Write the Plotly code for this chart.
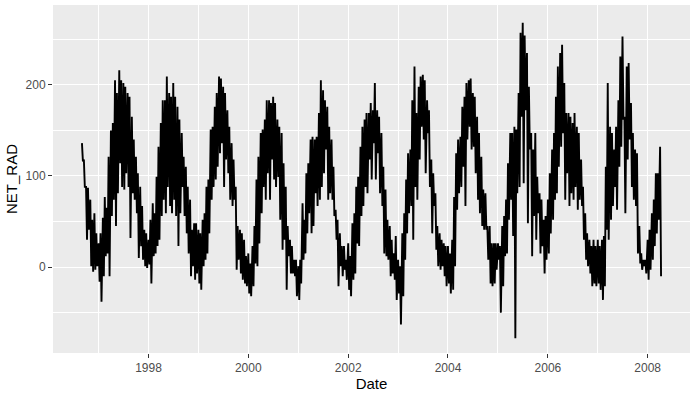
import pandas as pd
import plotly.graph_objects as go

# Semi-monthly envelope readings of NET_RAD (high and low of each half-month)
start_date = "1996-09-01"

hi_1996 = [136, 118, 88, 87, 74, 52, 59, 37]
lo_1996 = [116, 88, 30, 41, 1, -5, -3, 1]
hi_1997 = [26, 37, 54, 77, 65, 121, 150, 158, 205, 191, 216, 205, 202, 198, 191, 187, 165, 140, 121, 103, 88, 67, 41, 37]
lo_1997 = [-16, -38, -10, 12, 15, -10, 56, 74, 45, 81, 114, 88, 85, 103, 88, 32, 81, 74, 59, 10, 23, 8, 1, -1]
hi_1998 = [30, 52, 70, 59, 99, 132, 158, 183, 183, 209, 191, 187, 202, 187, 176, 162, 147, 121, 110, 88, 74, 41, 48, 48]
lo_1998 = [3, -18, 12, 15, 23, 30, 56, 74, 59, 88, 67, 59, 74, 56, 23, 59, 88, 56, 37, 15, -10, 1, -14, -7]
hi_1999 = [41, 37, 52, 59, 88, 96, 151, 154, 176, 191, 209, 207, 198, 191, 172, 154, 136, 118, 88, 45, 41, 37, 30, 12]
lo_1999 = [-18, -25, 1, 8, 15, 37, 74, 88, 96, 110, 125, 136, 88, 118, 103, 74, 67, 74, -3, 8, -7, -14, -18, -21]
hi_2000 = [15, 4, 23, 45, 96, 121, 147, 151, 162, 183, 183, 180, 187, 180, 162, 154, 147, 114, 88, 45, 30, 23, 8, 8]
lo_2000 = [-29, -32, -21, 4, 1, 26, 59, 88, 74, 103, 74, 118, 96, 88, 99, 52, 19, 30, -25, 12, -7, -7, -10, -32]
hi_2001 = [1, 8, 70, 52, 103, 114, 140, 143, 140, 143, 169, 205, 194, 183, 176, 154, 140, 110, 63, 52, 37, 23, 23, 8]
lo_2001 = [-36, -18, 8, 15, 37, 59, 37, 45, 81, 67, 74, 88, 103, 129, 74, 81, 74, 56, 30, -21, 1, -10, -3, -14]
hi_2002 = [26, 12, 48, 59, 88, 99, 132, 154, 162, 169, 169, 180, 172, 202, 172, 165, 147, 110, 85, 52, 45, 30, 15, 34]
lo_2002 = [-25, -32, -14, -7, 26, 23, 56, 67, 88, 81, 118, 96, 136, 96, 125, 81, 67, 15, 12, 8, -10, -7, -14, -36]
hi_2003 = [8, 1, 37, 59, 96, 125, 129, 183, 220, 169, 198, 209, 211, 205, 183, 172, 118, 103, 81, 45, 37, 30, 26, 23]
lo_2003 = [-29, -63, -32, 8, 37, 59, 67, 30, 88, 74, 118, 154, 140, 103, 147, 88, 37, 67, 19, 1, -3, 1, -10, -21]
hi_2004 = [23, 15, 30, 77, 125, 140, 143, 176, 187, 202, 205, 207, 191, 187, 165, 147, 121, 85, 81, 45, 45, 26, 26, 26]
lo_2004 = [-18, -29, -25, 1, 63, 81, 88, 110, 67, 140, 154, 129, 132, 103, 74, 59, 45, 41, 41, 8, -18, -21, -18, -3]
hi_2005 = [26, 23, 45, 56, 74, 114, 147, 147, 154, 151, 191, 257, 268, 254, 235, 198, 147, 129, 147, 99, 81, 74, 52, 56]
lo_2005 = [8, -50, -21, 12, 15, 52, 74, 34, -78, 81, 88, 165, 92, 172, 48, 129, 12, 56, 30, 59, 15, 23, -7, 8]
hi_2006 = [74, 103, 129, 147, 187, 220, 235, 244, 202, 169, 169, 165, 158, 169, 154, 147, 118, 88, 59, 37, 30, 23, 30, 23]
lo_2006 = [15, 37, 52, 74, 81, 110, 132, 147, 74, 103, 67, 81, 74, 88, 63, 74, 67, 30, 8, 1, -7, -21, -18, -21]
hi_2007 = [30, 23, 30, 34, 110, 202, 154, 147, 129, 154, 183, 231, 253, 165, 220, 224, 180, 147, 129, 125, 45, 15, 8, 8]
lo_2007 = [-18, -25, -36, -21, 41, 30, 52, 67, 88, 63, 110, 132, 162, 59, 118, 140, 88, 74, 67, 15, 4, -3, 1, -7]
hi_2008 = [30, 41, 59, 74, 103, 103, 132]
lo_2008 = [-14, -3, 8, 23, 37, 52, -10]

hi = (hi_1996 + hi_1997 + hi_1998 + hi_1999 + hi_2000 + hi_2001 + hi_2002
      + hi_2003 + hi_2004 + hi_2005 + hi_2006 + hi_2007 + hi_2008)
lo = (lo_1996 + lo_1997 + lo_1998 + lo_1999 + lo_2000 + lo_2001 + lo_2002
      + lo_2003 + lo_2004 + lo_2005 + lo_2006 + lo_2007 + lo_2008)

x_ticks = ["1998", "2000", "2002", "2004", "2006", "2008"]
y_ticks = [0, 100, 200]

dates = pd.date_range(start_date, periods=len(hi), freq="SMS")
xs, ys = [], []
for d, h, l in zip(dates, hi, lo):
    xs.append(d)
    ys.append(h)
    xs.append(d + pd.Timedelta(days=7))
    ys.append(l)

span = xs[-1] - xs[0]
x_range = [xs[0] - span * 0.05, xs[-1] + span * 0.05]

fig = go.Figure()
fig.add_trace(go.Scatter(x=xs, y=ys, mode="lines",
                         line=dict(color="black", width=1.9), showlegend=False))

axis_font = dict(family="Liberation Sans, Arial, sans-serif", size=12, color="#4D4D4D")
title_font = dict(family="Liberation Sans, Arial, sans-serif", size=15, color="black")

fig.update_layout(
    width=698, height=399,
    margin=dict(l=53, r=8, t=5, b=46),
    paper_bgcolor="white", plot_bgcolor="#EBEBEB",
    xaxis=dict(
        type="date", range=x_range,
        tickvals=[pd.Timestamp(t + "-01-01") for t in x_ticks], ticktext=x_ticks,
        ticks="outside", ticklen=4, tickwidth=1, tickcolor="#333333",
        tickfont=axis_font, showgrid=True, gridcolor="white", gridwidth=1.1,
        zeroline=False, showline=False,
        minor=dict(tickvals=[pd.Timestamp(f"{y}-01-01") for y in range(1997, 2009, 2)],
                   showgrid=True, gridcolor="white", gridwidth=0.55, ticks=""),
        title=dict(text="Date", font=title_font, standoff=4),
        automargin=False,
    ),
    yaxis=dict(
        range=[-94.3, 287.6], tickvals=y_ticks,
        ticks="outside", ticklen=4, tickwidth=1, tickcolor="#333333",
        tickfont=axis_font, showgrid=True, gridcolor="white", gridwidth=1.1,
        zeroline=False, showline=False,
        minor=dict(tickvals=[-50, 50, 150, 250], showgrid=True,
                   gridcolor="white", gridwidth=0.55, ticks=""),
        title=dict(text="NET_RAD", font=title_font, standoff=4),
        automargin=False,
    ),
)

fig.write_html("out.html", config={"displayModeBar": False},
               post_script="document.body.style.margin='0';")
